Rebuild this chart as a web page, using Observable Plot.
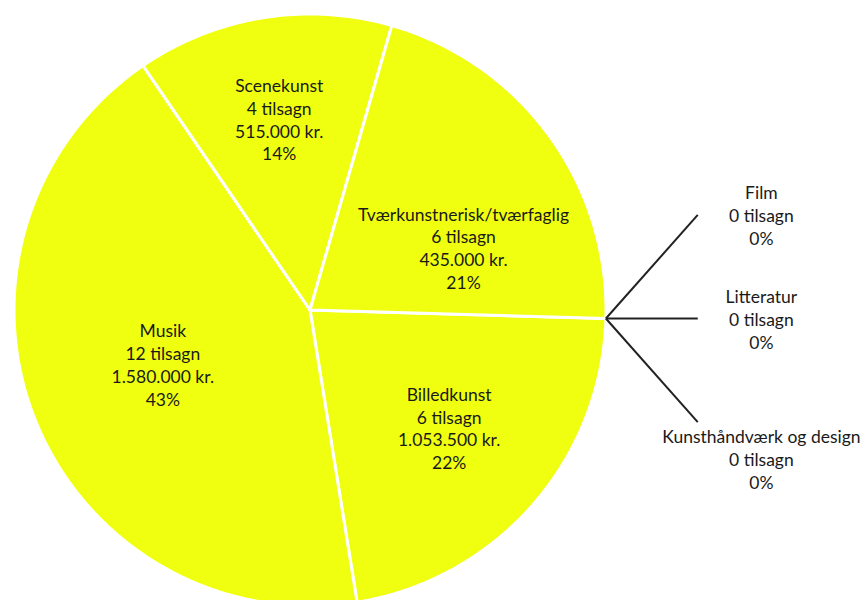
<!DOCTYPE html>
<html>
<head>
<meta charset="utf-8">
<script src="https://cdn.jsdelivr.net/npm/d3@7"></script>
<script src="https://cdn.jsdelivr.net/npm/@observablehq/plot@0.6"></script>
<style>
  html, body { margin: 0; padding: 0; background: #fff; overflow: hidden; }
  #chart { width: 865px; height: 600px; }
</style>
</head>
<body>
<div id="chart"></div>
<script>
// Tilsagn pr. kunstområde
const categories = ["Billedkunst", "Musik", "Scenekunst", "Tværkunstnerisk/tværfaglig", "Film", "Litteratur", "Kunsthåndværk og design"];
const grants = [6, 12, 4, 6, 0, 0, 0];
const amounts = [1053500, 1580000, 515000, 435000, 0, 0, 0];
const shares = [22, 43, 14, 21, 0, 0, 0];

const rows = categories.map((name, i) => ({name, grants: grants[i], amount: amounts[i], share: shares[i]}));

// Danish number format: 1.053.500
const da = d3.formatLocale({decimal: ",", thousands: ".", grouping: [3], currency: ["", " kr."]});
const fmtInt = da.format(",d");

const deg = Math.PI / 180;
const startAngle = 91.65 * deg;
const arcs = d3.pie().value(d => d.share).sort(null)
  .startAngle(startAngle).endAngle(startAngle + 2 * Math.PI)(rows);

// angle measured clockwise from 12 o'clock, radius in units of the pie radius
const polar = (a, r) => ({x: r * Math.sin(a), y: r * Math.cos(a)});

// outline of every non-empty slice as a closed polygon
const slicePts = [];
for (const a of arcs.filter(a => a.value > 0)) {
  slicePts.push({name: a.data.name, x: 0, y: 0});
  const steps = Math.max(2, Math.ceil((a.endAngle - a.startAngle) / (0.5 * deg)));
  for (let k = 0; k <= steps; k++) {
    const t = a.startAngle + (a.endAngle - a.startAngle) * k / steps;
    slicePts.push({name: a.data.name, ...polar(t, 1)});
  }
}

// label placement inside the slices: [angle nudge in degrees, radius]
const labelPlacement = {
  "Billedkunst": [-1, 0.616],
  "Musik": [1.5, 0.53],
  "Scenekunst": [0, 0.654],
  "Tværkunstnerisk/tværfaglig": [14, 0.56]
};

const inner = arcs.filter(a => a.value > 0).map(a => {
  const [nudge, r] = labelPlacement[a.data.name];
  const mid = (a.startAngle + a.endAngle) / 2 + nudge * deg;
  const p = polar(mid, r);
  return {
    ...p,
    text: `${a.data.name}\n${a.data.grants} tilsagn\n${fmtInt(a.data.amount)} kr.\n${a.data.share}%`
  };
});

// empty categories get leader lines fanning out to the right
const empty = arcs.filter(a => a.value === 0);
const leaders = empty.map((a, j) => {
  const s = polar(a.startAngle, 1);
  return {
    name: a.data.name,
    x1: s.x, y1: s.y,
    x2: 1.31, y2: s.y + (1 - j) * 0.35,
    last: j === empty.length - 1,
    text: `${a.data.name}\n${a.data.grants} tilsagn\n${a.data.share}%`
  };
});

const textStyle = {fontSize: 17.5, lineHeight: 1.3, fill: "#1a1a1a"};

const chart = Plot.plot({
  width: 865,
  height: 600,
  margin: 0,
  x: {domain: [-1, 1], range: [13.5, 605.5], axis: null},
  y: {domain: [-1, 1], range: [605.5, 13.5], axis: null},
  style: {fontFamily: "Lato, 'Open Sans', sans-serif", background: "white", overflow: "hidden"},
  marks: [
    Plot.line(slicePts, {
      x: "x", y: "y", z: "name",
      fill: "#f0ff10", stroke: "white", strokeWidth: 3,
      strokeLinejoin: "round", curve: "linear-closed"
    }),
    Plot.link(leaders, {x1: "x1", y1: "y1", x2: "x2", y2: "y2", stroke: "#222", strokeWidth: 2}),
    Plot.text(inner, {x: "x", y: "y", text: "text", ...textStyle}),
    Plot.text(leaders.filter(d => !d.last), {x: d => d.x2 + 0.215, y: "y2", text: "text", ...textStyle}),
    Plot.text(leaders.filter(d => d.last), {x: d => d.x2 + 0.215, y: "y2", text: "text", lineAnchor: "top", dy: 5, ...textStyle})
  ]
});

document.getElementById("chart").appendChild(chart);
</script>
</body>
</html>
